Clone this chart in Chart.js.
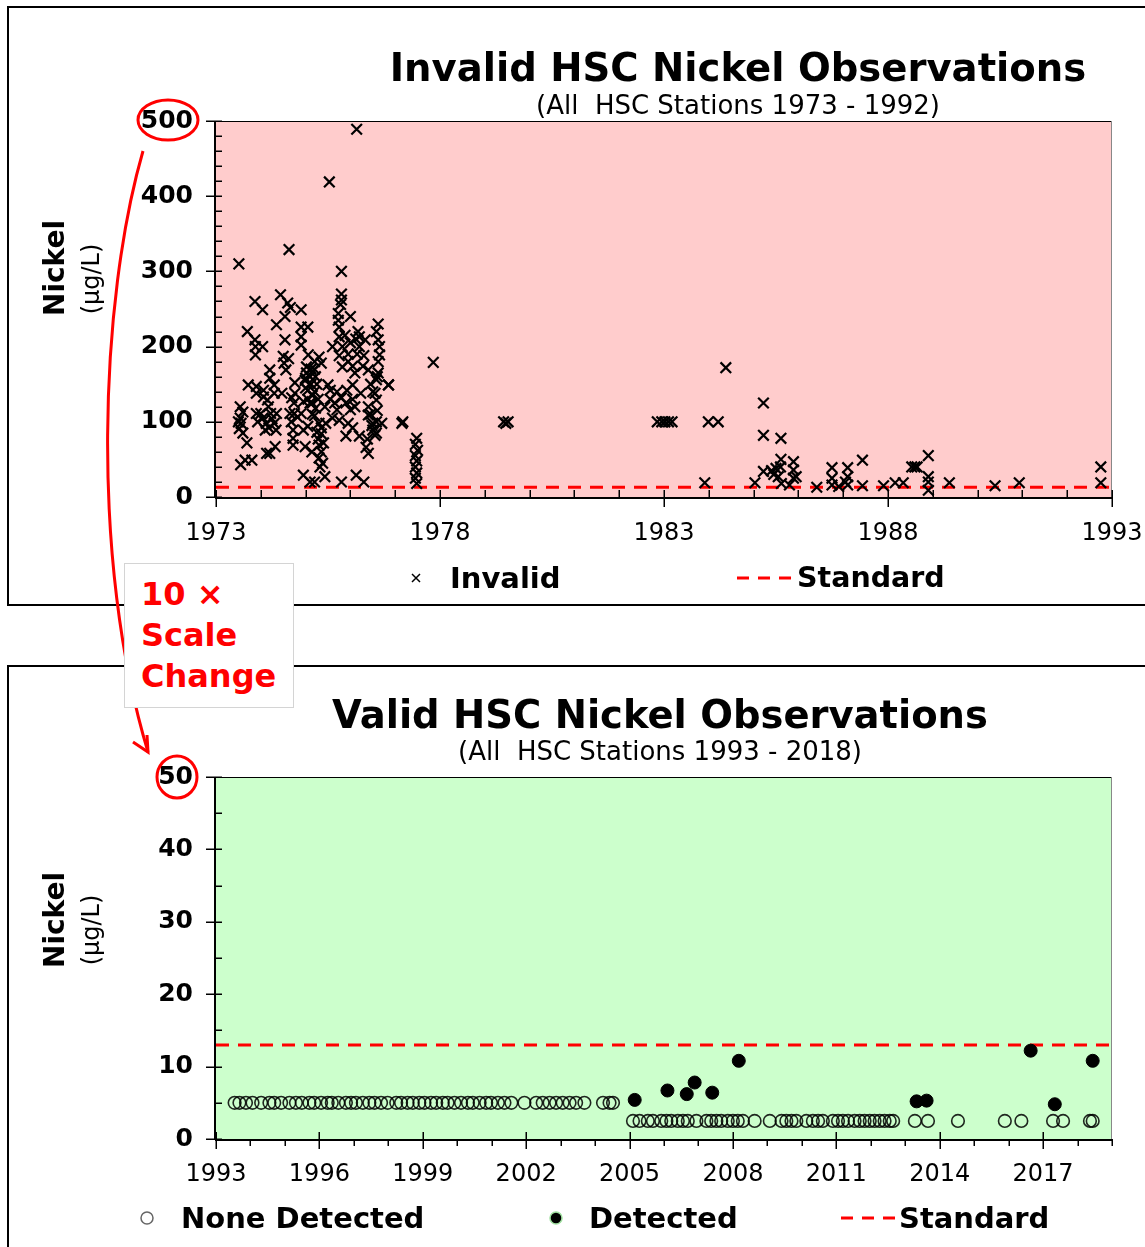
<!DOCTYPE html>
<html>
<head>
<meta charset="utf-8">
<script src="https://cdn.jsdelivr.net/npm/chart.js@4.4.1/dist/chart.umd.min.js"></script>
<style>
  html, body { margin: 0; padding: 0; background: #fff; }
  body { width: 1145px; height: 1247px; position: relative; overflow: hidden;
         font-family: "DejaVu Sans", Verdana, sans-serif; color: #000; }
  .frame { position: absolute; border: 2px solid #000; box-sizing: border-box; z-index: 1; }
  canvas { position: absolute; left: 0; z-index: 2; }
  svg { position: absolute; left: 0; top: 0; z-index: 3; }
  .t { position: absolute; white-space: pre; line-height: 1; z-index: 5; }
  .c { text-align: center; width: 1000px; }
  .b { font-weight: bold; }
  .rot { transform: translate(-50%, -50%) rotate(-90deg); }
  #note { position: absolute; left: 124px; top: 563px; width: 170px; height: 145px;
          box-sizing: border-box; border: 1px solid #d4d4d4; background: #fff; z-index: 4; }
  #note div { position: absolute; left: 16px; top: 10px; color: #ff0000; font-weight: bold;
              font-size: 32px; line-height: 41px; white-space: pre; }
</style>
</head>
<body>

<div class="frame" style="left:7px; top:6px; width:1150px; height:600px;"></div>
<div class="frame" style="left:7px; top:665px; width:1150px; height:600px;"></div>

<canvas id="invalidChart" width="1180" height="620" style="top:0"></canvas>
<canvas id="validChart" width="1180" height="627" style="top:620px"></canvas>

<svg width="1145" height="1247">
  <!-- scale change call-out -->
  <ellipse cx="168" cy="120" rx="30" ry="20" fill="none" stroke="#ff0000" stroke-width="3"/>
  <ellipse cx="177" cy="777" rx="20" ry="21" fill="none" stroke="#ff0000" stroke-width="3"/>
  <path d="M143,151 C100,300 90,560 148,752" fill="none" stroke="#ff0000" stroke-width="3"/>
  <path d="M133,742 L148,752 L147,735" fill="none" stroke="#ff0000" stroke-width="3"/>
  <!-- legend symbols -->
  <path d="M412,574 L420,582 M420,574 L412,582" stroke="#000" stroke-width="1.5"/>
  <path d="M737,578 H795" stroke="#ff0000" stroke-width="3" stroke-dasharray="12 9"/>
  <circle cx="147" cy="1218" r="6" fill="none" stroke="#666" stroke-width="1.5"/>
  <circle cx="556" cy="1218" r="6" fill="#000" stroke="#9fdf9f" stroke-width="1.5"/>
  <path d="M841,1218 H897" stroke="#ff0000" stroke-width="3" stroke-dasharray="12 9"/>
</svg>

<div id="note"><div>10 ×
Scale
Change</div></div>

<div class="t c b" style="left:238px; top:49px; font-size:38.6px;">Invalid HSC Nickel Observations</div>
<div class="t c" style="left:238px; top:92px; font-size:26px;">(All  HSC Stations 1973 - 1992)</div>
<div class="t b rot" style="left:55px; top:268px; font-size:28px;">Nickel</div>
<div class="t rot" style="left:91px; top:279px; font-size:24px;">(µg/L)</div>
<div class="t b" style="left:450px; top:564px; font-size:29px;">Invalid</div>
<div class="t b" style="left:797px; top:564px; font-size:28.5px;">Standard</div>

<div class="t c b" style="left:160px; top:696px; font-size:38.5px;">Valid HSC Nickel Observations</div>
<div class="t c" style="left:160px; top:738px; font-size:26px;">(All  HSC Stations 1993 - 2018)</div>
<div class="t b rot" style="left:55px; top:920px; font-size:28px;">Nickel</div>
<div class="t rot" style="left:91px; top:930px; font-size:24px;">(µg/L)</div>
<div class="t b" style="left:181px; top:1204px; font-size:29px;">None Detected</div>
<div class="t b" style="left:589px; top:1204px; font-size:29px;">Detected</div>
<div class="t b" style="left:899px; top:1204px; font-size:29px;">Standard</div>

<script>
// Nickel standard, µg/L
const STANDARD = 13;

// tick labels
const invalidYearTicks = [1973, 1978, 1983, 1988, 1993];
const invalidNickelTicks = [0, 100, 200, 300, 400, 500];
const validYearTicks = [1993, 1996, 1999, 2002, 2005, 2008, 2011, 2014, 2017];
const validNickelTicks = [0, 10, 20, 30, 40, 50];

// invalid observations 1973-1992: [decimal year, µg/L]
const invalidObs = [
  [1973.51,310],[1974.63,329],[1975.53,419],[1976.14,489],[1975.80,300],
  [1974.44,269],[1973.87,260],[1974.04,249],[1974.60,258],[1974.66,252],[1974.90,249],
  [1974.54,240],[1974.35,229],[1973.70,220],[1974.90,226],[1975.05,226],
  [1973.87,209],[1974.04,200],[1973.88,200],[1973.88,189],[1974.54,209],[1974.90,213],[1974.90,202],
  [1974.50,187],[1974.52,178],[1974.56,169],[1974.62,184],[1975.06,189],[1974.20,169],[1974.20,158],
  [1975.02,173],[1975.02,165],
  [1973.72,149],[1973.90,147],[1973.90,138],[1974.06,142],[1974.06,133],[1974.30,149],[1974.30,138],
  [1974.76,152],[1974.76,138],[1975.00,158],[1975.10,160],[1975.00,145],[1974.47,138],
  [1973.54,120],[1973.60,113],[1974.15,129],[1974.17,120],[1974.69,132],[1974.74,125],[1974.95,127],[1975.10,125],
  [1973.90,111],[1974.00,111],[1974.22,111],[1974.35,111],[1974.65,111],[1974.75,111],[1974.90,111],
  [1973.50,100],[1973.52,91],[1973.93,100],[1974.10,89],[1974.30,98],[1974.34,89],[1974.72,89],[1974.95,89],[1975.05,94],
  [1973.60,85],[1973.69,72],[1974.32,67],[1974.72,78],[1974.72,69],[1974.13,58],[1974.20,58],[1974.99,67],[1975.14,60],
  [1973.55,43],[1973.65,49],[1973.80,49],[1974.95,29],
  [1973.54,105],[1973.56,98],[1974.05,105],[1974.12,98],[1974.25,104],[1974.18,92],[1974.82,106],[1974.68,100],
  [1975.12,170],[1975.12,150],[1975.15,135],[1975.15,110],
  [1975.20,170],[1975.22,160],[1975.25,150],[1975.20,140],[1975.28,130],[1975.22,118],[1975.20,108],
  [1975.35,92],[1975.40,72],[1975.38,45],[1975.32,40],
  [1975.55,130],[1975.65,125],[1975.80,132],[1975.70,140],[1975.90,125],[1976.05,130],
  [1975.88,215],[1975.95,180],[1976.10,165],[1976.12,210],
  [1976.45,150],[1976.50,140],[1976.45,110],[1976.60,115],[1976.48,95],
  [1976.62,230],[1976.62,180],[1976.60,160],
  [1975.80,270],[1975.80,262],[1975.78,256],[1975.73,244],[1975.73,235],[1976.00,240],
  [1975.75,226],[1975.75,213],[1976.17,220],[1976.20,213],[1976.58,220],
  [1975.60,200],[1975.82,200],[1976.00,205],[1976.20,200],[1976.33,209],
  [1976.62,209],[1976.65,200],[1976.65,189],
  [1975.75,188],[1975.95,190],[1976.15,190],[1976.30,188],
  [1975.20,180],[1975.30,186],[1975.35,178],
  [1975.82,173],[1976.05,174],[1976.28,174],
  [1976.40,169],[1976.62,165],[1976.58,156],[1976.85,149],
  [1975.50,149],[1975.55,142],[1975.92,142],[1976.05,149],[1976.23,138],
  [1976.55,138],[1976.58,129],
  [1974.99,155],[1975.05,142],[1975.05,130],[1975.15,125],
  [1975.43,120],[1975.70,116],[1976.00,116],[1976.10,120],
  [1976.40,120],[1976.40,109],[1976.58,100],[1976.70,98],[1976.50,98],[1976.55,82],
  [1975.30,98],[1975.45,98],[1975.60,105],[1975.75,102],[1975.95,98],[1976.05,92],
  [1975.25,86],[1975.35,84],[1975.28,77],[1975.30,69],[1975.35,60],[1975.30,52],
  [1975.90,81],[1976.20,81],[1976.38,77],[1976.35,66],[1976.40,58],
  [1976.50,89],[1976.58,85],
  [1975.10,20],[1975.20,20],[1975.43,27],[1975.80,20],[1976.13,29],[1976.30,20],
  [1977.15,98],[1977.17,100],
  [1977.48,78],[1977.45,70],[1977.50,62],[1977.45,55],[1977.48,48],[1977.45,40],[1977.48,32],[1977.45,25],[1977.48,18],
  [1976.85,149],[1977.85,179],
  [1979.42,100],[1979.47,98],[1979.52,100],
  [1982.85,100],[1982.95,100],[1983.02,100],[1983.10,100],[1983.18,100],
  [1983.99,100],[1984.21,100],[1984.38,172],[1983.91,19],
  [1985.22,125],[1985.22,82],[1985.61,78],[1985.03,19],[1985.22,34],[1985.40,35],[1985.45,30],
  [1985.50,38],[1985.55,27],[1985.60,40],[1985.61,50],[1985.62,18],[1985.80,16],
  [1985.89,47],[1985.89,36],[1985.89,25],[1985.95,27],
  [1986.41,13],[1986.75,39],[1986.75,25],[1986.75,16],[1986.90,14],
  [1987.10,39],[1987.10,27],[1987.10,16],[1987.05,20],[1987.43,49],[1987.43,15],
  [1987.90,15],[1988.16,19],[1988.34,19],[1988.53,40],[1988.60,40],[1988.65,40],
  [1988.90,55],[1988.90,27],[1988.90,20],[1988.90,9],[1989.37,19],[1990.39,15],[1990.93,19],
  [1992.75,40],[1992.75,19]
];

// valid observations 1993-2018, non-detects plotted at the reporting limit
const noneDetected = [
  [1993.54,5],[1993.68,5],[1993.87,5],[1994.06,5],[1994.31,5],[1994.55,5],[1994.69,5],[1994.89,5],
  [1995.13,5],[1995.32,5],[1995.49,5],[1995.71,5],[1995.85,5],[1996.05,5],[1996.24,5],[1996.36,5],
  [1996.55,5],[1996.77,5],[1996.92,5],[1997.06,5],[1997.26,5],[1997.45,5],[1997.60,5],[1997.79,5],
  [1997.98,5],[1998.23,5],[1998.37,5],[1998.56,5],[1998.71,5],[1998.90,5],[1999.05,5],[1999.24,5],
  [1999.39,5],[1999.58,5],[1999.72,5],[1999.92,5],[2000.11,5],[2000.31,5],[2000.45,5],[2000.65,5],
  [2000.84,5],[2000.98,5],[2001.18,5],[2001.37,5],[2001.57,5],[2001.95,5],[2002.29,5],[2002.48,5],
  [2002.68,5],[2002.87,5],[2003.06,5],[2003.26,5],[2003.45,5],[2003.69,5],[2004.23,5],[2004.42,5],
  [2004.52,5],
  [2005.10,2.5],[2005.29,2.5],[2005.53,2.5],[2005.68,2.5],[2005.92,2.5],[2006.07,2.5],[2006.21,2.5],
  [2006.40,2.5],[2006.55,2.5],[2006.69,2.5],[2006.94,2.5],[2007.23,2.5],[2007.37,2.5],[2007.52,2.5],
  [2007.66,2.5],[2007.85,2.5],[2008.00,2.5],[2008.14,2.5],[2008.29,2.5],[2008.63,2.5],[2009.07,2.5],
  [2009.41,2.5],[2009.55,2.5],[2009.70,2.5],[2009.84,2.5],[2010.13,2.5],[2010.32,2.5],[2010.47,2.5],
  [2010.61,2.5],[2010.90,2.5],[2011.05,2.5],[2011.19,2.5],[2011.34,2.5],[2011.53,2.5],[2011.68,2.5],
  [2011.82,2.5],[2011.97,2.5],[2012.11,2.5],[2012.26,2.5],[2012.40,2.5],[2012.55,2.5],[2012.65,2.5],
  [2013.28,2.5],[2013.66,2.5],[2014.53,2.5],[2015.89,2.5],[2016.37,2.5],[2017.29,2.5],[2017.58,2.5],
  [2018.36,2.5],[2018.44,2.5]
];
const detected = [
  [2005.15,5.4],[2006.10,6.7],[2006.66,6.2],[2006.89,7.8],[2007.40,6.4],[2008.17,10.8],
  [2013.33,5.2],[2013.62,5.3],[2016.64,12.2],[2017.34,4.8],[2018.44,10.8]
];

const FONT = '"DejaVu Sans", Verdana, sans-serif';
const toXY = arr => arr.map(([x, y]) => ({ x, y }));

// plot background, axis lines and tick marks
const framePlugin = {
  id: 'frame',
  beforeDraw(chart, args, o) {
    const { ctx, chartArea: a } = chart;
    ctx.save();
    ctx.fillStyle = o.bg;
    ctx.fillRect(a.left, a.top, a.right - a.left, a.bottom - a.top);
    ctx.restore();
  },
  afterDraw(chart, args, o) {
    const { ctx, chartArea: a, scales: { x, y } } = chart;
    const line = (x1, y1, x2, y2) => { ctx.beginPath(); ctx.moveTo(x1, y1); ctx.lineTo(x2, y2); ctx.stroke(); };
    ctx.save();
    ctx.strokeStyle = '#000'; ctx.lineWidth = 1;
    line(a.left, a.top + 0.5, a.right, a.top + 0.5);
    ctx.strokeStyle = '#888';
    line(a.right - 0.5, a.top, a.right - 0.5, a.bottom);
    ctx.strokeStyle = '#000'; ctx.lineWidth = 2;
    line(a.left - 1, a.top, a.left - 1, a.bottom + 1);
    line(a.left - 1, a.bottom + 1, a.right, a.bottom + 1);
    ctx.lineWidth = 1.5;
    for (let v = y.min; v <= y.max + 1e-6; v += o.yMinor) {
      const p = Math.round(y.getPixelForValue(v)) + 0.25;
      const major = o.yTicks.includes(v);
      line(a.left - (major ? 10 : 0), p, a.left + 6, p);
    }
    for (let v = x.min; v <= x.max + 1e-6; v += 1) {
      const p = Math.round(x.getPixelForValue(v)) + 0.25;
      const major = o.xTicks.includes(v);
      if (major) line(p, a.bottom - 7, p, a.bottom + 10);
      else if (o.minorOut) line(p, a.bottom, p, a.bottom + 7);
      else line(p, a.bottom - 7, p, a.bottom);
    }
    ctx.restore();
  }
};

function buildChart(id, datasets, cfg) {
  return new Chart(document.getElementById(id), {
    type: 'scatter',
    data: { datasets },
    options: {
      responsive: false,
      animation: false,
      events: [],
      layout: { padding: cfg.padding },
      plugins: {
        legend: { display: false },
        tooltip: { enabled: false },
        frame: { bg: cfg.bg, xTicks: cfg.xTicks, yTicks: cfg.yTicks, yMinor: cfg.yMinor, minorOut: cfg.minorOut }
      },
      scales: {
        x: {
          type: 'linear', min: cfg.xMin, max: cfg.xMax,
          grid: { display: false, drawTicks: false }, border: { display: false },
          afterBuildTicks: s => { s.ticks = cfg.xTicks.map(v => ({ value: v })); },
          afterFit: s => { s.height = 60; },
          ticks: { autoSkip: false, maxRotation: 0, padding: cfg.xPad, color: '#000',
                   font: { family: FONT, size: 24 }, callback: v => String(v) }
        },
        y: {
          type: 'linear', min: 0, max: cfg.yMax,
          grid: { display: false, drawTicks: false }, border: { display: false },
          afterBuildTicks: s => { s.ticks = cfg.yTicks.map(v => ({ value: v })); },
          afterFit: s => { s.width = 100; },
          ticks: { padding: 23, color: '#000', font: { family: FONT, size: 25, weight: 'bold' },
                   callback: v => String(v) }
        }
      }
    },
    plugins: [framePlugin]
  });
}

buildChart('invalidChart', [
  { label: 'Invalid', data: toXY(invalidObs), pointStyle: 'crossRot', pointRadius: 7.5,
    borderColor: '#000', backgroundColor: '#000', borderWidth: 2.2 },
  { label: 'Standard', type: 'line', data: [{ x: 1973, y: STANDARD }, { x: 1993, y: STANDARD }],
    borderColor: '#ff0000', borderWidth: 3, borderDash: [13, 9], pointRadius: 0, fill: false }
], {
  padding: { left: 116, right: 68, top: 121, bottom: 63 },
  bg: '#ffcccc', xMin: 1973, xMax: 1993, yMax: 500, yMinor: 20,
  xTicks: invalidYearTicks, yTicks: invalidNickelTicks, minorOut: false, xPad: 22
});

buildChart('validChart', [
  { label: 'Detected', data: toXY(detected), pointStyle: 'circle', pointRadius: 6.5,
    borderColor: '#000', backgroundColor: '#000', borderWidth: 1 },
  { label: 'None Detected', data: toXY(noneDetected), pointStyle: 'circle', pointRadius: 6.3,
    borderColor: 'rgba(0,0,0,0.85)', backgroundColor: 'rgba(0,0,0,0)', borderWidth: 1.6 },
  { label: 'Standard', type: 'line', data: [{ x: 1993, y: STANDARD }, { x: 2019, y: STANDARD }],
    borderColor: '#ff0000', borderWidth: 3, borderDash: [13, 9], pointRadius: 0, fill: false }
], {
  padding: { left: 116, right: 68, top: 157, bottom: 48 },
  bg: '#ccffcc', xMin: 1993, xMax: 2019, yMax: 50, yMinor: 5,
  xTicks: validYearTicks, yTicks: validNickelTicks, minorOut: true, xPad: 21
});
</script>
</body>
</html>
